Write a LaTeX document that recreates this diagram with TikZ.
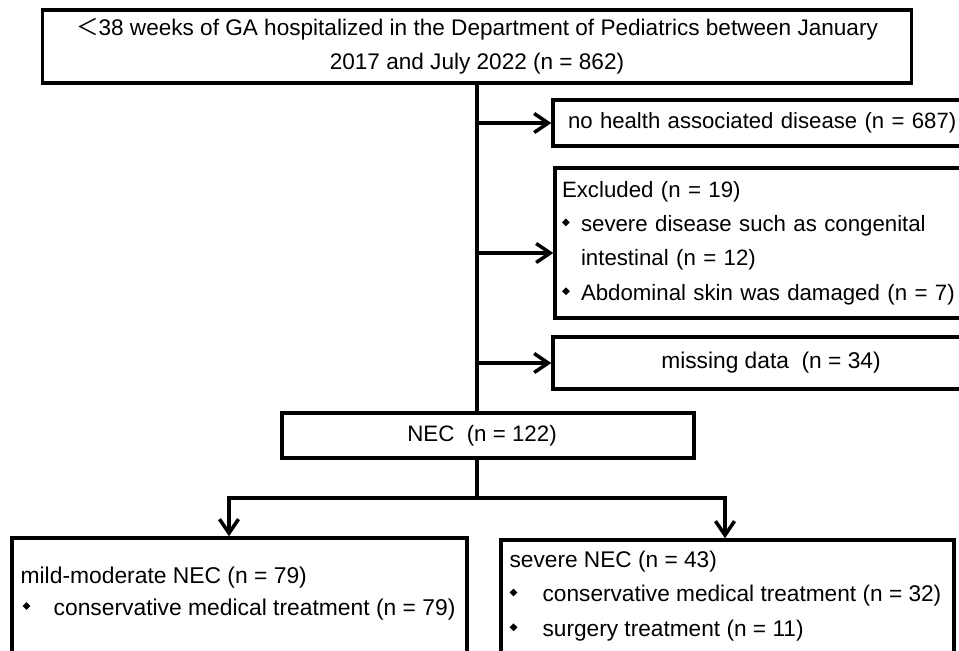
\documentclass[tikz,border=0pt]{standalone}
\usepackage{fontspec}
\setmainfont{Liberation Sans}
\newfontfamily\cjkfont{Noto Sans CJK SC}
\usetikzlibrary{positioning}
\usetikzlibrary{calc}
\usetikzlibrary{arrows.meta}

\newcommand{\dmd}{\raisebox{0.45ex}{\rotatebox{45}{\rule{0.11cm}{0.11cm}}}}

\tikzset{
	box/.style={draw, line width=2pt, rectangle, inner sep=0pt, font=\fontsize{12.6}{19.5}\selectfont},
	txt/.style={inner sep=0pt, align=left},
	arr/.style={line width=2pt, -{Straight Barb[length=2.8mm,width=3.8mm]}},
	ln/.style={line width=2pt},
}

\begin{document}
\begin{tikzpicture}[x=0.02cm, y=-0.02cm]
	\useasboundingbox (0,0) rectangle (959,650);
	\clip (0,0) rectangle (959,650);
	% boxes
	\node[box, minimum width=17.38cm, minimum height=1.46cm, align=center, font=\fontsize{12.85}{19.3}\selectfont] (top) at (477,46.5) {{\cjkfont ＜}38 weeks of GA hospitalized in the Department of Pediatrics between January\\2017 and July 2022 (n = 862)};
	\node[box, minimum height=0.92cm, text width=8.34cm, inner xsep=0.3cm, align=left] (nohealth) at (776.5,123) {no health associated disease (n = 687)};
	\node[box, minimum height=3cm, text width=8.62cm, inner xsep=0.14cm, align=left, font=\fontsize{12.65}{19.6}\selectfont] (excl) at (777.5,243) {Excluded (n = 19)\\\makebox[0.38cm][l]{\dmd}severe disease such as congenital\\\hspace*{0.38cm}intestinal (n = 12)\\\makebox[0.38cm][l]{\dmd}Abdominal skin was damaged (n = 7)};
	\node[box, minimum width=8.72cm, minimum height=1.04cm, font=\fontsize{12.95}{19.5}\selectfont] (missing) at (771,363) {missing data~ (n = 34)};
	\node[box, minimum width=8.24cm, minimum height=0.9cm, font=\fontsize{12.7}{19.5}\selectfont] (nec) at (488,435.5) {\hspace*{-0.24cm}NEC~ (n = 122)};
	\node[box, minimum width=9.1cm, minimum height=3.24cm] (mild) at (239.5,619) {};
	\node[box, minimum width=9.06cm, minimum height=3.2cm] (severe) at (727.5,620) {};
	\node[txt, font=\fontsize{13}{18.3}\selectfont, below right=0.6cm and 0.2cm of mild.north west] (mildtxt) {mild-moderate NEC (n = 79)\\\makebox[0.66cm][l]{\hspace{0.04cm}\dmd}conservative medical treatment (n = 79)};
	\node[txt, font=\fontsize{12.9}{19.8}\selectfont, below right=0.24cm and 0.2cm of severe.north west] (severetxt) {severe NEC (n = 43)\\\makebox[0.66cm][l]{\dmd}conservative medical treatment (n = 32)\\\makebox[0.66cm][l]{\dmd}surgery treatment (n = 11)};
	% connectors
	\coordinate (exclin) at ([yshift=-0.2cm]excl.west);
	\coordinate (split) at (top.south |- 0,498);
	\draw[ln] (top.south) -- (top.south |- nec.north);
	\draw[arr] (top.south |- nohealth.west) -- (nohealth.west);
	\draw[arr] (top.south |- exclin) -- (exclin);
	\draw[arr] (top.south |- missing.west) -- (missing.west);
	\draw[ln] (top.south |- nec.south) -- (split);
	\draw[arr] (split) -| ([xshift=-0.21cm]mild.north);
	\draw[arr] (split) -| ([xshift=-0.05cm]severe.north);
\end{tikzpicture}
\end{document}
